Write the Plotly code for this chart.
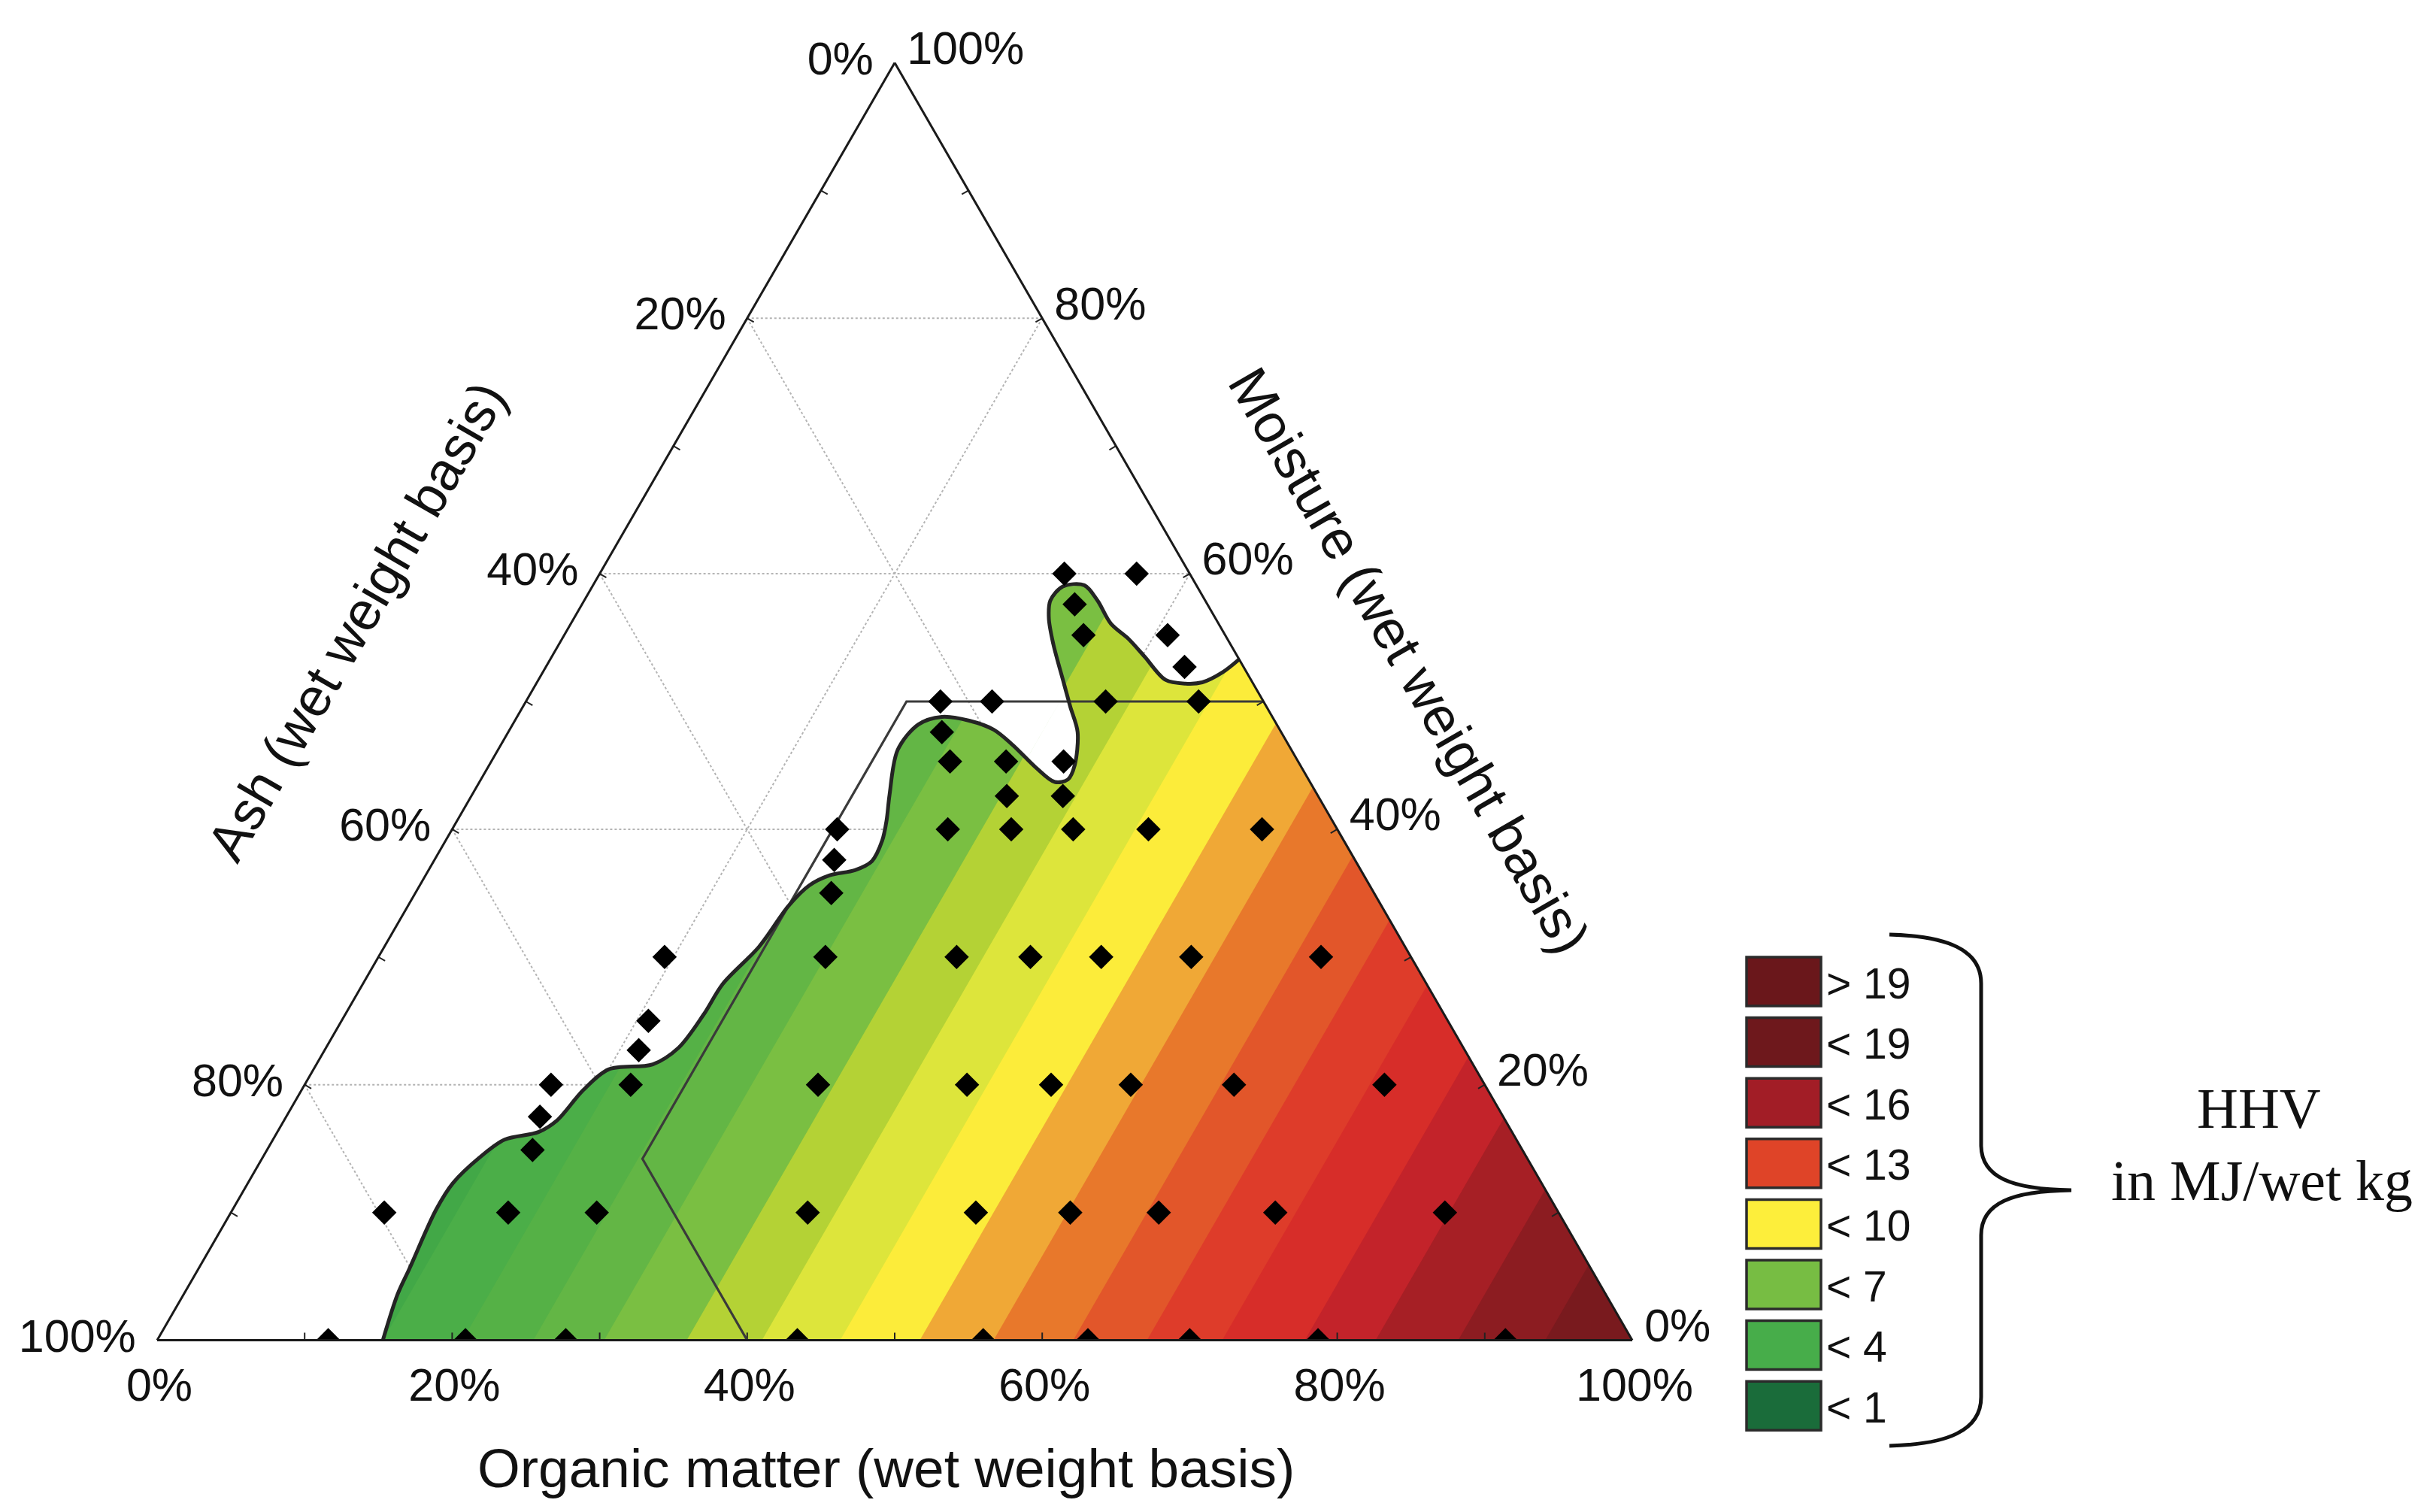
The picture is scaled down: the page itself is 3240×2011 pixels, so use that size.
import plotly.graph_objects as go

FIG_W, FIG_H = 3240, 2011

# ---------------- data (percent, wet weight basis) ----------------
# HHV contour band edges (constant organic-matter lines) and band colours
band_edges_organic = [15.6, 21.0, 25.8, 30.6, 36.2, 41.3, 46.6, 52.0, 57.0,
                      62.4, 67.4, 72.5, 78.1, 82.9, 88.5, 94.4]
band_colors = ["#42a847", "#4bae48", "#55b146", "#63b645", "#7abf42", "#b4d235",
               "#dde53b", "#fcec3a", "#f0a836", "#e8782b", "#e2562a", "#de3c2a",
               "#d72d29", "#c3232a", "#a61f25", "#8c1c21", "#791a1e"]

# outline of the coloured (predicted) region, from bottom edge to right edge
blob_moisture = [0, 3.6, 5.6, 10.2, 12.3, 14.3, 15.7, 16.3, 17.2, 19.6, 21.2, 21.6,
                 22.9, 25.5, 27.9, 30.8, 34.0, 35.6, 36.4, 36.8, 37.5, 39.1, 40.7,
                 42.7, 46.2, 48.2, 48.8, 48.5, 47.8, 46.6, 44.8, 43.7, 43.9, 45.0,
                 47.6, 49.6, 51.5, 54.5, 56.5, 57.9, 59.0, 59.1, 57.9, 56.1, 54.9,
                 53.5, 51.7, 51.4, 51.5, 52.3, 53.3]
blob_organic = [15.3, 14.5, 14.3, 13.8, 13.9, 14.7, 15.7, 17.7, 18.5, 19.1, 20.0, 22.8,
                23.9, 24.3, 24.4, 25.4, 25.8, 26.4, 27.4, 28.9, 29.7, 29.6, 29.1,
                28.3, 27.1, 27.5, 28.8, 30.8, 32.8, 34.7, 37.2, 39.0, 39.8, 39.7,
                38.6, 37.1, 35.7, 33.5, 32.2, 31.6, 31.9, 33.3, 34.8, 36.6, 38.4,
                40.2, 42.5, 44.0, 45.1, 46.1, 46.7]

# constraint polygon (moisture, organic)
poly_moisture = [0, 14.2, 50, 50]
poly_organic = [40, 25.8, 25.8, 50]

# sample compositions (diamonds)
pt_moisture = [60, 60, 57.6, 55.2, 55.2, 52.7, 50, 50, 50, 50, 47.6, 45.3, 45.3, 45.3,
               42.6, 42.6, 40, 40, 40, 40, 40, 40, 37.6, 35.0,
               30, 30, 30, 30, 30, 30, 30, 25.0, 22.7,
               20, 20, 20, 20, 20, 20, 20, 20, 17.5, 14.9,
               10, 10, 10, 10, 10, 10, 10, 10, 10,
               0, 0, 0, 0, 0, 0, 0, 0, 0]
pt_organic = [31.5, 36.4, 33.4, 35.2, 40.9, 43.3, 28.1, 31.6, 39.3, 45.6, 29.4, 31.1, 34.9, 38.8,
              36.3, 40.1, 26.1, 33.6, 37.9, 42.1, 47.2, 54.9, 27.1, 28.2,
              19.4, 30.3, 39.2, 44.2, 49.0, 55.1, 63.9, 20.8, 21.3,
              16.7, 22.1, 34.8, 44.9, 50.6, 56.0, 63.0, 73.2, 17.2, 18.0,
              10.4, 18.8, 24.8, 39.1, 50.5, 56.9, 62.9, 70.8, 82.3,
              11.6, 20.9, 27.7, 43.4, 56.0, 63.1, 70.0, 78.7, 91.4]

legend_labels = ["> 19", "< 19", "< 16", "< 13", "< 10", "< 7", "< 4", "< 1"]
legend_colors = ["#6a171b", "#6e181c", "#a21d26", "#df4428", "#fdee3b", "#77bd43", "#47ad4a", "#1a6c3a"]

grid_values = [20, 40, 60, 80]
minor_tick_values = [10, 20, 30, 40, 50, 60, 70, 80, 90]
label_values = [0, 20, 40, 60, 80, 100]

SANS = "Liberation Sans, Arial, sans-serif"
SERIF = "Liberation Serif, Times New Roman, serif"


def ash_of(m, c):
    return max(0.0, 100.0 - m - c)


def clip_band(poly, lo, hi):
    def clip(pts, inside, cross):
        out = []
        if not pts:
            return out
        prev = pts[-1]
        for cur in pts:
            if inside(cur):
                if not inside(prev):
                    out.append(cross(prev, cur))
                out.append(cur)
            elif inside(prev):
                out.append(cross(prev, cur))
            prev = cur
        return out

    def cross_at(k):
        def f(p, q):
            t = (k - p[1]) / (q[1] - p[1])
            return (p[0] + t * (q[0] - p[0]), k)
        return f

    pts = clip(poly, lambda p: p[1] >= lo, cross_at(lo))
    pts = clip(pts, lambda p: p[1] <= hi, cross_at(hi))
    return pts


fig = go.Figure()

# dotted grid
ga, gb, gc = [], [], []
for v in grid_values:
    ga += [v, v, None]; gb += [100 - v, 0, None]; gc += [0, 100 - v, None]
    ga += [100 - v, 0, None]; gb += [v, v, None]; gc += [0, 100 - v, None]
    ga += [100 - v, 0, None]; gb += [0, 100 - v, None]; gc += [v, v, None]
fig.add_trace(go.Scatterternary(a=ga, b=gb, c=gc, mode="lines",
                                line=dict(color="#b4b4b4", width=2, dash="dot"),
                                hoverinfo="skip", showlegend=False))

# coloured HHV bands clipped to the predicted region
blob_poly = list(zip(blob_moisture, blob_organic)) + [(0.0, 100.0)]
edges = [0.0] + band_edges_organic + [100.0]
for i, col in enumerate(band_colors):
    lo, hi = edges[i], edges[i + 1]
    lo_ext = lo - 0.3 if i > 0 else lo
    pts = clip_band(blob_poly, lo_ext, hi)
    if len(pts) < 3:
        continue
    pts = pts + [pts[0]]
    fig.add_trace(go.Scatterternary(
        a=[p[0] for p in pts], b=[ash_of(p[0], p[1]) for p in pts], c=[p[1] for p in pts],
        mode="lines", fill="toself", fillcolor=col, line=dict(width=0, color=col),
        hoverinfo="skip", showlegend=False))

# small inward tick marks every 10 %
ta, tb, tc = [], [], []
for v in minor_tick_values:
    ta += [0, 0.6, None]; tb += [100 - v, 100 - v - 0.3, None]; tc += [v, v - 0.3, None]
    ta += [v, v - 0.3, None]; tb += [0, 0.6, None]; tc += [100 - v, 100 - v - 0.3, None]
    ta += [v, v - 0.3, None]; tb += [100 - v, 100 - v - 0.3, None]; tc += [0, 0.6, None]
fig.add_trace(go.Scatterternary(a=ta, b=tb, c=tc, mode="lines",
                                line=dict(color="#222", width=2),
                                hoverinfo="skip", showlegend=False))

# constraint polygon
fig.add_trace(go.Scatterternary(
    a=poly_moisture, b=[ash_of(m, c) for m, c in zip(poly_moisture, poly_organic)], c=poly_organic,
    mode="lines", line=dict(color="#3a3a3a", width=3.2), hoverinfo="skip", showlegend=False))

# outline of predicted region
fig.add_trace(go.Scatterternary(
    a=blob_moisture, b=[ash_of(m, c) for m, c in zip(blob_moisture, blob_organic)], c=blob_organic,
    mode="lines", line=dict(color="#242424", width=5, shape="spline", smoothing=0.9),
    hoverinfo="skip", showlegend=False))

# sample points
fig.add_trace(go.Scatterternary(
    a=pt_moisture, b=[ash_of(m, c) for m, c in zip(pt_moisture, pt_organic)], c=pt_organic,
    mode="markers", marker=dict(symbol="diamond", size=25, color="black", line=dict(width=0)),
    hoverinfo="skip", showlegend=False))


def tern_axis(ticklen):
    return dict(tickmode="array", tickvals=label_values,
                ticktext=[f"{100 - v}%" for v in label_values],
                ticks="outside", ticklen=ticklen, tickcolor="rgba(0,0,0,0)",
                showgrid=False, linecolor="#1a1a1a", linewidth=3,
                tickfont=dict(family=SANS, size=61, color="#111"),
                title=dict(text=""), min=0)


def px(x):
    return x / FIG_W


def py(y):
    return 1 - y / FIG_H


annotations = [
    dict(text="Organic matter (wet weight basis)", x=px(1170), y=py(1944), xref="paper", yref="paper",
         showarrow=False, font=dict(family=SANS, size=73, color="#111"), xanchor="center", yanchor="middle"),
    dict(text="Ash (wet weight basis)", x=px(466), y=py(818), xref="paper", yref="paper",
         showarrow=False, textangle=-60, font=dict(family=SANS, size=72, color="#111"),
         xanchor="center", yanchor="middle"),
    dict(text="Moisture (wet weight basis)", x=px(1867), y=py(870), xref="paper", yref="paper",
         showarrow=False, textangle=60, font=dict(family=SANS, size=73, color="#111"),
         xanchor="center", yanchor="middle"),
    dict(text="HHV", x=px(2996), y=py(1466), xref="paper", yref="paper", showarrow=False,
         font=dict(family=SERIF, size=76, color="#111"), xanchor="center", yanchor="middle"),
    dict(text="in MJ/wet kg", x=px(3000), y=py(1562), xref="paper", yref="paper", showarrow=False,
         font=dict(family=SERIF, size=76, color="#111"), xanchor="center", yanchor="middle"),
]

shapes = []
box_left, box_w, box_h, box_top0, box_pitch = 2315, 99, 65, 1265, 80.6
for i, (lab, col) in enumerate(zip(legend_labels, legend_colors)):
    top = box_top0 + i * box_pitch
    shapes.append(dict(type="rect", xref="paper", yref="paper",
                       x0=px(box_left), x1=px(box_left + box_w), y0=py(top + box_h), y1=py(top),
                       fillcolor=col, line=dict(color="#2b2b2b", width=3.5)))
    annotations.append(dict(text=lab, x=px(box_left + box_w + 5), y=py(top + box_h / 2 + 2),
                            xref="paper", yref="paper", showarrow=False, xanchor="left",
                            yanchor="middle", font=dict(family=SANS, size=57, color="#111")))

# curly brace
brace_pts = [("M", [(2505, 1235)]),
             ("C", [(2582, 1237), (2627, 1255), (2627, 1300)]),
             ("L", [(2627, 1515)]),
             ("C", [(2627, 1558), (2668, 1574), (2747, 1575)]),
             ("C", [(2668, 1576), (2627, 1592), (2627, 1635)]),
             ("L", [(2627, 1850)]),
             ("C", [(2627, 1895), (2582, 1913), (2505, 1915)])]
path = ""
for cmd, pts in brace_pts:
    path += cmd + " " + " ".join(f"{px(x):.5f},{py(y):.5f}" for x, y in pts) + " "
shapes.append(dict(type="path", xref="paper", yref="paper", path=path.strip(),
                   line=dict(color="#111", width=5)))

fig.update_layout(
    width=FIG_W, height=FIG_H, margin=dict(l=0, r=0, t=0, b=0),
    paper_bgcolor="white", plot_bgcolor="white", showlegend=False,
    ternary=dict(sum=100, bgcolor="rgba(0,0,0,0)",
                 domain=dict(x=[201 / FIG_W, 2163 / FIG_W], y=[1 - 1775 / FIG_H, 1 - 75 / FIG_H]),
                 aaxis=tern_axis(20), baxis=tern_axis(6), caxis=tern_axis(16)),
    annotations=annotations, shapes=shapes,
)

fig.write_html("out.html")
